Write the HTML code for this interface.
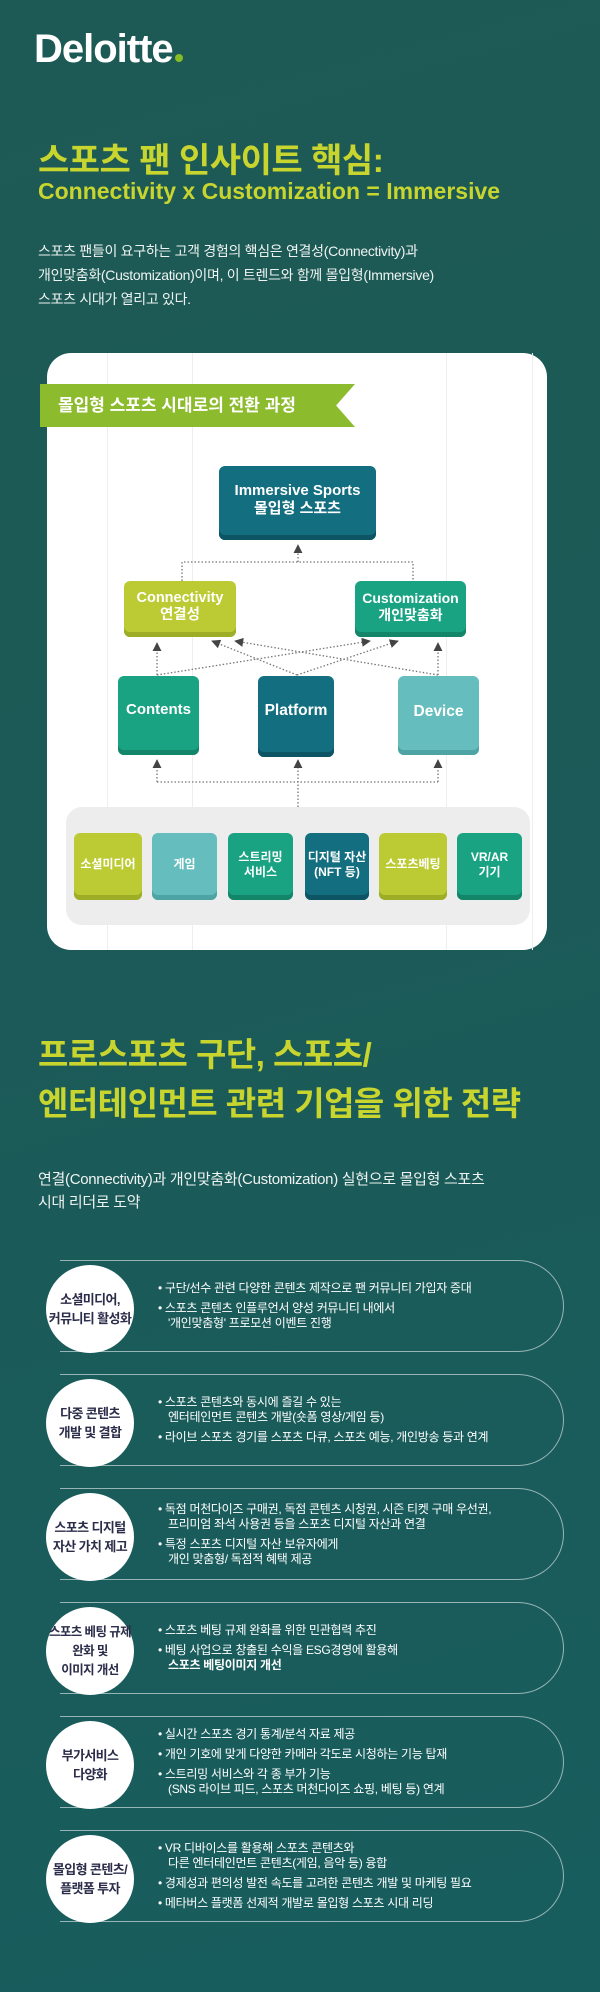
<!DOCTYPE html>
<html><head><meta charset="utf-8">
<style>
*{margin:0;padding:0;box-sizing:border-box}
body{width:600px;height:1992px;overflow:hidden;position:relative;font-family:"Liberation Sans","Noto Sans CJK KR",sans-serif;background:linear-gradient(165deg,#1e5a55 0%,#1b5a57 40%,#1a5c5b 75%,#185d5e 100%);}
.a{position:absolute}
.logo{left:34px;top:27px;font-size:40px;font-weight:bold;color:#fff;letter-spacing:-1px}
.logo i{display:inline-block;width:8px;height:8px;border-radius:50%;background:#86bc25;margin-left:2px}
.t1{left:38px;top:133px;font-size:34px;font-weight:bold;color:#c8d52e;letter-spacing:-0.5px;white-space:nowrap}
.t1s{left:38px;top:178px;font-size:23px;font-weight:bold;color:#c8d52e;white-space:nowrap}
.p{left:38px;color:#eef3f1;font-size:14px;line-height:24px;letter-spacing:-0.3px;white-space:nowrap}
.card{left:47px;top:353px;width:500px;height:597px;background:#fff;border-radius:24px}
.vl{top:353px;width:1px;height:597px;background:#eee}
.ban{left:40px;top:384px;width:315px;height:43px;background:#8cbb2e;clip-path:polygon(0 0,100% 0,94% 50%,100% 100%,0 100%);color:#fff;font-weight:bold;font-size:17px;line-height:43px;padding-left:18px;white-space:nowrap}
.bx{color:#fff;font-weight:bold;display:flex;align-items:center;justify-content:center;text-align:center;border-radius:6px}
.navy{background:#136e80;box-shadow:inset 0 -5px 0 #0d5464}
.lime{background:#bccb33;box-shadow:inset 0 -5px 0 #9dae26}
.grn{background:#1aa383;box-shadow:inset 0 -5px 0 #138569}
.aq{background:#66bdbd;box-shadow:inset 0 -5px 0 #4ea4a5}
.panel{left:66px;top:807px;width:464px;height:118px;background:#ededed;border-radius:16px}
.sb{top:833px;height:67px;font-size:12px;line-height:15px;padding-bottom:4px}
.t2{left:38px;top:1030px;font-size:33px;font-weight:bold;color:#c8d52e;line-height:49px;letter-spacing:-0.5px;white-space:nowrap}
.pill{left:60px;width:504px;height:92px;border:1.5px solid rgba(255,255,255,0.55);border-radius:0 46px 46px 0;border-left:none}
.cir{left:46px;width:88px;height:88px;border-radius:50%;background:#fff;color:#2b2d4a;font-weight:bold;font-size:13px;line-height:19px;display:flex;align-items:center;justify-content:center;text-align:center;letter-spacing:-0.6px;white-space:nowrap}
.txt{left:158px;width:400px;height:92px;display:flex;flex-direction:column;justify-content:center;color:#fff;font-size:12px;line-height:15px;letter-spacing:-0.3px}
.txt div{margin:2.5px 0;padding-left:10px;text-indent:-10px;white-space:nowrap}
</style></head><body>
<div class="a logo">Deloitte<i></i></div>
<div class="a t1">스포츠 팬 인사이트 핵심:</div>
<div class="a t1s">Connectivity x Customization = Immersive</div>
<div class="a p" style="top:239px">스포츠 팬들이 요구하는 고객 경험의 핵심은 연결성(Connectivity)과<br>개인맞춤화(Customization)이며, 이 트렌드와 함께 몰입형(Immersive)<br>스포츠 시대가 열리고 있다.</div>

<div class="a card"></div>
<div class="a vl" style="left:107px"></div>
<div class="a vl" style="left:192px"></div>
<div class="a vl" style="left:446px"></div>
<div class="a vl" style="left:532px"></div>
<div class="a ban">몰입형 스포츠 시대로의 전환 과정</div>

<div class="a bx navy" style="left:219px;top:466px;width:157px;height:74px;font-size:15px;line-height:18px;padding-bottom:6px">Immersive Sports<br>몰입형 스포츠</div>
<div class="a bx lime" style="left:124px;top:581px;width:112px;height:56px;font-size:14.5px;line-height:17px;padding-bottom:5px">Connectivity<br>연결성</div>
<div class="a bx grn" style="left:355px;top:581px;width:111px;height:56px;font-size:14px;line-height:17px;padding-bottom:5px">Customization<br>개인맞춤화</div>
<div class="a bx grn" style="left:118px;top:676px;width:81px;height:79px;font-size:15px;padding-bottom:12px">Contents</div>
<div class="a bx navy" style="left:258px;top:676px;width:76px;height:81px;font-size:15.5px;padding-bottom:12px">Platform</div>
<div class="a bx aq" style="left:398px;top:676px;width:81px;height:79px;font-size:15.5px;padding-bottom:8px">Device</div>

<svg class="a" style="left:0;top:0" width="600" height="1992">
<defs><marker id="ar" viewBox="0 0 10 10" refX="9" refY="5" markerWidth="7" markerHeight="7" orient="auto"><path d="M0,0L10,5L0,10z" fill="#444"/></marker></defs>
<g stroke="#777" stroke-width="1.3" stroke-dasharray="1.5 2" fill="none">
<path d="M298 562V545" marker-end="url(#ar)"/>
<path d="M182 581V562H413V581"/>
<path d="M157 675V643" marker-end="url(#ar)"/>
<path d="M438 675V643" marker-end="url(#ar)"/>
<path d="M157 675L370 641" marker-end="url(#ar)"/>
<path d="M297 675L212 641" marker-end="url(#ar)"/>
<path d="M297 675L398 641" marker-end="url(#ar)"/>
<path d="M438 675L235 641" marker-end="url(#ar)"/>
<path d="M157 782V760" marker-end="url(#ar)"/>
<path d="M298 807V760" marker-end="url(#ar)"/>
<path d="M438 782V760" marker-end="url(#ar)"/>
<path d="M157 782H438"/>
</g></svg>

<div class="a panel"></div>
<div class="a bx sb lime" style="left:74px;width:68px">소셜미디어</div>
<div class="a bx sb aq" style="left:152px;width:65px">게임</div>
<div class="a bx sb grn" style="left:228px;width:65px">스트리밍<br>서비스</div>
<div class="a bx sb navy" style="left:305px;width:64px">디지털 자산<br>(NFT 등)</div>
<div class="a bx sb lime" style="left:379px;width:68px">스포츠베팅</div>
<div class="a bx sb grn" style="left:457px;width:65px">VR/AR<br>기기</div>

<div class="a t2">프로스포츠 구단, 스포츠/<br>엔터테인먼트 관련 기업을 위한 전략</div>
<div class="a p" style="top:1168px;font-size:15px;line-height:23px">연결(Connectivity)과 개인맞춤화(Customization) 실현으로 몰입형 스포츠<br>시대 리더로 도약</div>

<div class="a pill" style="top:1260px"></div>
<div class="a cir" style="top:1265px">소셜미디어,<br>커뮤니티 활성화</div>
<div class="a txt" style="top:1260px"><div>• 구단/선수 관련 다양한  콘텐츠 제작으로 팬 커뮤니티 가입자 증대</div><div>• 스포츠 콘텐츠 인플루언서 양성 커뮤니티 내에서<br>'개인맞춤형' 프로모션 이벤트 진행</div></div>

<div class="a pill" style="top:1374px"></div>
<div class="a cir" style="top:1379px">다중 콘텐츠<br>개발 및 결합</div>
<div class="a txt" style="top:1374px"><div>• 스포츠 콘텐츠와 동시에 즐길 수 있는<br>엔터테인먼트 콘텐츠 개발(숏폼 영상/게임 등)</div><div>• 라이브 스포츠 경기를 스포츠 다큐, 스포츠 예능, 개인방송 등과 연계</div></div>

<div class="a pill" style="top:1488px"></div>
<div class="a cir" style="top:1493px">스포츠 디지털<br>자산 가치 제고</div>
<div class="a txt" style="top:1488px"><div>• 독점 머천다이즈 구매권, 독점 콘텐츠 시청권, 시즌 티켓 구매 우선권,<br>프리미엄 좌석 사용권 등을 스포츠 디지털 자산과 연결</div><div>• 특정 스포츠 디지털 자산 보유자에게<br>개인 맞춤형/ 독점적 혜택 제공</div></div>

<div class="a pill" style="top:1602px"></div>
<div class="a cir" style="top:1607px;font-size:12.5px">스포츠 베팅 규제<br>완화 및<br>이미지 개선</div>
<div class="a txt" style="top:1602px"><div>• 스포츠 베팅 규제 완화를 위한 민관협력 추진</div><div>• 베팅 사업으로 창출된 수익을 ESG경영에 활용해<br><b>스포츠 베팅이미지 개선</b></div></div>

<div class="a pill" style="top:1716px"></div>
<div class="a cir" style="top:1721px">부가서비스<br>다양화</div>
<div class="a txt" style="top:1716px"><div>• 실시간 스포츠 경기 통계/분석 자료 제공</div><div>• 개인 기호에 맞게 다양한 카메라 각도로 시청하는 기능 탑재</div><div>• 스트리밍 서비스와 각 종 부가 기능<br>(SNS 라이브 피드, 스포츠 머천다이즈 쇼핑, 베팅 등) 연계</div></div>

<div class="a pill" style="top:1830px"></div>
<div class="a cir" style="top:1835px">몰입형 콘텐츠/<br>플랫폼 투자</div>
<div class="a txt" style="top:1830px"><div>• VR 디바이스를 활용해 스포츠 콘텐츠와<br>다른 엔터테인먼트 콘텐츠(게임, 음악 등) 융합</div><div>• 경제성과 편의성 발전 속도를 고려한 콘텐츠 개발 및 마케팅 필요</div><div>• 메타버스 플랫폼 선제적 개발로 몰입형 스포츠 시대 리딩</div></div>
</body></html>
